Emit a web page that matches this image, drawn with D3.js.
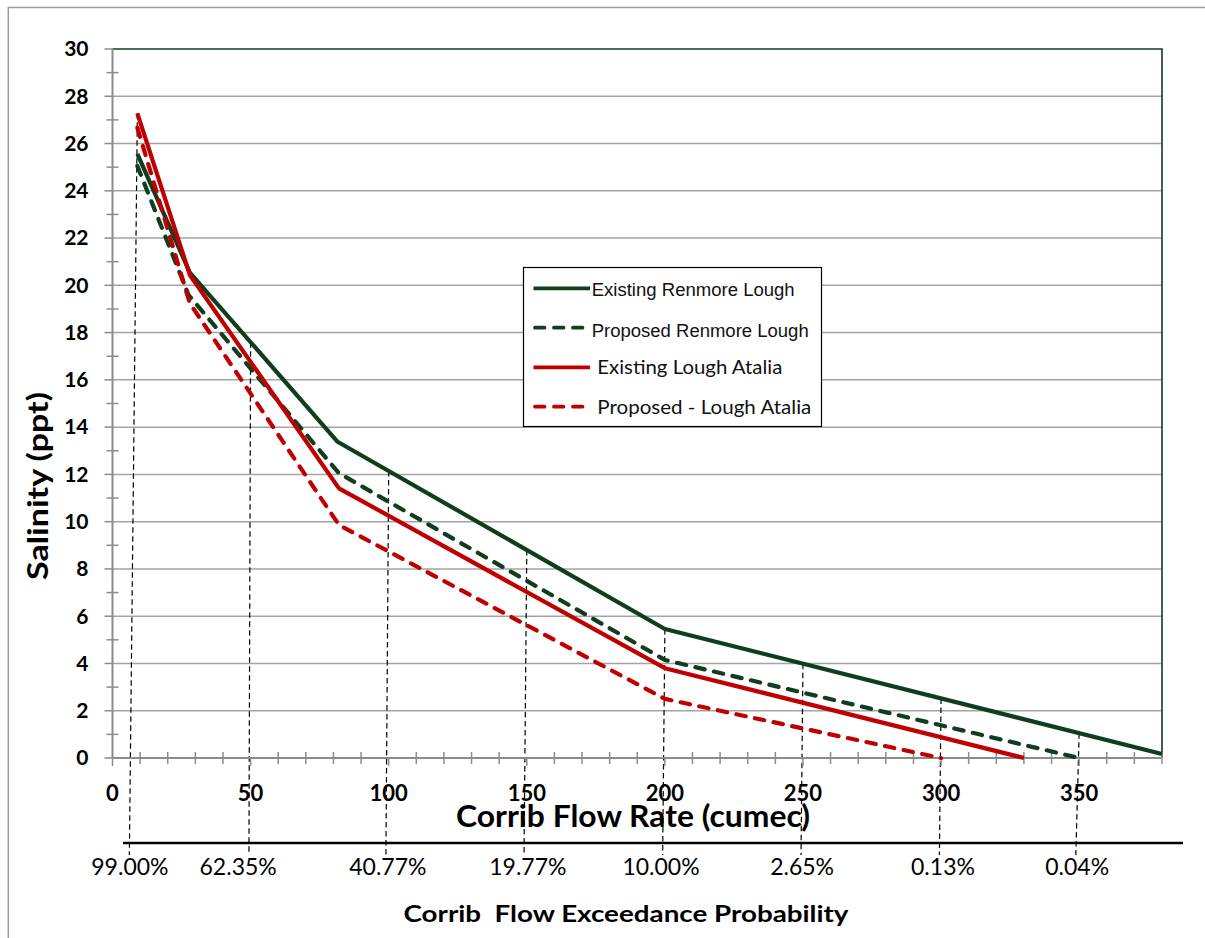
<!DOCTYPE html>
<html>
<head>
<meta charset="utf-8">
<script src="https://cdn.jsdelivr.net/npm/d3@7"></script>
<style>
  html, body { margin: 0; padding: 0; background: #fff; }
  svg { display: block; }
</style>
</head>
<body>
<svg id="chart" width="1205" height="938"></svg>
<script>
// ---------- DATA ----------
const seriesNames = ["Existing Renmore Lough", "Proposed Renmore Lough", "Existing Lough Atalia", "Proposed - Lough Atalia"];
const existingRenmoreFlow = [9, 28, 81.5, 200, 380];
const existingRenmoreSal  = [25.56, 20.54, 13.38, 5.46, 0.17];
const proposedRenmoreFlow = [9, 27.5, 82, 200, 350];
const proposedRenmoreSal  = [25.05, 19.6, 12.05, 4.15, 0];
const existingAtaliaFlow  = [9, 28, 82, 200, 330];
const existingAtaliaSal   = [27.28, 20.44, 11.41, 3.80, 0];
const proposedAtaliaFlow  = [9, 28, 82, 200, 300];
const proposedAtaliaSal   = [26.67, 19.24, 9.86, 2.50, 0];

const yTicks = [0, 2, 4, 6, 8, 10, 12, 14, 16, 18, 20, 22, 24, 26, 28, 30];
const xTicks = [0, 50, 100, 150, 200, 250, 300, 350];

// exceedance probability markers (flow where the drop line leaves the curves, flow where it ends)
const probLabels   = ["99.00%", "62.35%", "40.77%", "19.77%", "10.00%", "2.65%", "0.13%", "0.04%"];
const probFlowTop  = [9, 50, 100, 150, 200, 250, 300, 350];
const probFlowBot  = [6.1, 49.4, 99, 149, 199.2, 249.3, 299.4, 348.8];
const probLabelFlow = [6.3, 45.5, 99.7, 150.4, 198.6, 249.7, 300.7, 349.3];

// ---------- LAYOUT ----------
const svg = d3.select("#chart");
const L = 112.5, R = 1162, T = 49, B = 758;
const x = d3.scaleLinear().domain([0, 380]).range([L, R]);
const y = d3.scaleLinear().domain([0, 30]).range([B, T]);

const green = "#0f3d1e", red = "#c00000";
const gridCol = "#a3a3a3", axisCol = "#8c8c8c";

// outer frame
svg.append("rect").attr("x", 8.3).attr("y", 7.5).attr("width", 1300).attr("height", 1000)
  .attr("fill", "#fff").attr("stroke", "#9a9a9a").attr("stroke-width", 1.5);

// gridlines
svg.append("g").selectAll("line").data(yTicks.filter(v => v > 0 && v < 30)).join("line")
  .attr("x1", L).attr("x2", R).attr("y1", d => y(d)).attr("y2", d => y(d))
  .attr("stroke", gridCol).attr("stroke-width", 1.5);

// plot border top/right (dark green)
svg.append("path").attr("d", `M${L},${T}H${R}V${B}`).attr("fill", "none")
  .attr("stroke", green).attr("stroke-width", 1.6);

// series
const series = [
  {flow: existingRenmoreFlow, sal: existingRenmoreSal, color: green, dash: null},
  {flow: proposedRenmoreFlow, sal: proposedRenmoreSal, color: green, dash: "9.5,9.5"},
  {flow: existingAtaliaFlow, sal: existingAtaliaSal, color: red, dash: null},
  {flow: proposedAtaliaFlow, sal: proposedAtaliaSal, color: red, dash: "9.5,9.5"}
];

function interp(s, f) {
  const fl = s.flow, sa = s.sal;
  if (f < fl[0] || f > fl[fl.length - 1]) return -Infinity;
  for (let i = 0; i < fl.length - 1; i++) {
    if (f >= fl[i] && f <= fl[i + 1]) {
      const t = (f - fl[i]) / (fl[i + 1] - fl[i]);
      return sa[i] + t * (sa[i + 1] - sa[i]);
    }
  }
  return -Infinity;
}

// drop lines
const dropBottom = 855;
svg.append("g").selectAll("line").data(probFlowTop).join("line")
  .attr("x1", d => x(d))
  .attr("y1", d => y(d3.max(series, s => interp(s, d))))
  .attr("x2", (d, i) => x(probFlowBot[i]))
  .attr("y2", dropBottom)
  .attr("stroke", "#000").attr("stroke-width", 1.2).attr("stroke-dasharray", "5.5,3.5");

// axes lines
const axG = svg.append("g");
axG.append("line").attr("x1", L).attr("x2", L).attr("y1", T).attr("y2", B)
  .attr("stroke", axisCol).attr("stroke-width", 2);
axG.selectAll(".ymaj").data(yTicks).join("line")
  .attr("x1", L - 8).attr("x2", L).attr("y1", d => y(d)).attr("y2", d => y(d))
  .attr("stroke", axisCol).attr("stroke-width", 1.5);
axG.selectAll(".ymin").data(d3.range(1, 30, 2)).join("line")
  .attr("x1", L - 6).attr("x2", L + 6).attr("y1", d => y(d)).attr("y2", d => y(d))
  .attr("stroke", axisCol).attr("stroke-width", 1.5);
axG.append("line").attr("x1", L).attr("x2", R).attr("y1", B).attr("y2", B)
  .attr("stroke", axisCol).attr("stroke-width", 2);
axG.selectAll(".xmaj").data(xTicks).join("line")
  .attr("x1", d => x(d)).attr("x2", d => x(d)).attr("y1", B).attr("y2", B + 8)
  .attr("stroke", axisCol).attr("stroke-width", 1.5);
axG.selectAll(".xmin").data(d3.range(10, 381, 10).filter(v => v % 50 !== 0)).join("line")
  .attr("x1", d => x(d)).attr("x2", d => x(d)).attr("y1", B - 6).attr("y2", B + 6)
  .attr("stroke", axisCol).attr("stroke-width", 1.5);

// series lines
const line = d3.line().x(d => x(d[0])).y(d => y(d[1]));
svg.append("g").selectAll("path").data(series).join("path")
  .attr("d", s => line(s.flow.map((f, i) => [f, s.sal[i]])))
  .attr("fill", "none").attr("stroke", s => s.color).attr("stroke-width", 4.2)
  .attr("stroke-linejoin", "round")
  .attr("stroke-linecap", s => s.dash ? "round" : "butt")
  .attr("stroke-dasharray", s => s.dash);

// tick labels
svg.append("g").selectAll("text").data(yTicks).join("text")
  .attr("x", 88.5).attr("y", d => y(d) + 7.3)
  .attr("text-anchor", "end")
  .attr("font-family", "Lato, sans-serif").attr("font-weight", "bold").attr("font-size", 21)
  .text(d => d);
svg.append("g").selectAll("text").data(xTicks).join("text")
  .attr("x", d => x(d)).attr("y", 800.5)
  .attr("text-anchor", "middle")
  .attr("font-family", "Lato, sans-serif").attr("font-weight", "bold").attr("font-size", 22)
  .text(d => d);

// titles
svg.append("text").attr("x", 633).attr("y", 827).attr("text-anchor", "middle")
  .attr("font-family", "Lato, sans-serif").attr("font-weight", "bold").attr("font-size", 30.5)
  .attr("textLength", 354).attr("lengthAdjust", "spacingAndGlyphs")
  .text("Corrib Flow Rate (cumec)");

svg.append("text").attr("transform", "translate(48,486) rotate(-90)").attr("text-anchor", "middle")
  .attr("font-family", "Lato, sans-serif").attr("font-weight", "bold").attr("font-size", 28)
  .attr("textLength", 188).attr("lengthAdjust", "spacingAndGlyphs")
  .text("Salinity (ppt)");

// secondary (probability) axis
svg.append("line").attr("x1", 123).attr("x2", 1183).attr("y1", 843).attr("y2", 843)
  .attr("stroke", "#000").attr("stroke-width", 2.5);
svg.append("g").selectAll("text").data(probLabels).join("text")
  .attr("x", (d, i) => x(probLabelFlow[i])).attr("y", 875)
  .attr("text-anchor", "middle")
  .attr("font-family", "Lato, sans-serif").attr("font-size", 23)
  .text(d => d);

svg.append("text").attr("x", 626).attr("y", 921.5).attr("text-anchor", "middle")
  .attr("font-family", "Lato, sans-serif").attr("font-weight", "bold").attr("font-size", 23.5)
  .attr("textLength", 445).attr("lengthAdjust", "spacingAndGlyphs")
  .attr("xml:space", "preserve").style("white-space", "pre")
  .text("Corrib  Flow Exceedance Probability");

// legend
const lg = svg.append("g");
lg.append("rect").attr("x", 523.5).attr("y", 267.5).attr("width", 298).attr("height", 159)
  .attr("fill", "#fff").attr("stroke", "#000").attr("stroke-width", 1.2);
const legendRows = [
  {lineY: 288.3, textX: 591.7, base: 296, font: "'Liberation Sans', Arial, sans-serif", size: 17.5, len: 203, x2: 590},
  {lineY: 327.7, textX: 591.7, base: 336.7, font: "'Liberation Sans', Arial, sans-serif", size: 17.5, len: 217, x2: 584},
  {lineY: 367.3, textX: 597.3, base: 374.3, font: "Lato, sans-serif", size: 20, len: 185, x2: 590},
  {lineY: 406.7, textX: 597.3, base: 414, font: "Lato, sans-serif", size: 20, len: 214, x2: 584}
];
legendRows.forEach((r, i) => {
  const s = series[i];
  lg.append("line").attr("x1", s.dash ? 535 : 533.5).attr("x2", r.x2).attr("y1", r.lineY).attr("y2", r.lineY)
    .attr("stroke", s.color).attr("stroke-width", 3.8)
    .attr("stroke-linecap", s.dash ? "round" : "butt")
    .attr("stroke-dasharray", s.dash ? "9.5,9.5" : null);
  lg.append("text").attr("x", r.textX).attr("y", r.base)
    .attr("font-family", r.font).attr("font-size", r.size)
    .attr("textLength", r.len).attr("lengthAdjust", "spacingAndGlyphs")
    .attr("fill", "#111")
    .text(seriesNames[i]);
});
</script>
</body>
</html>
